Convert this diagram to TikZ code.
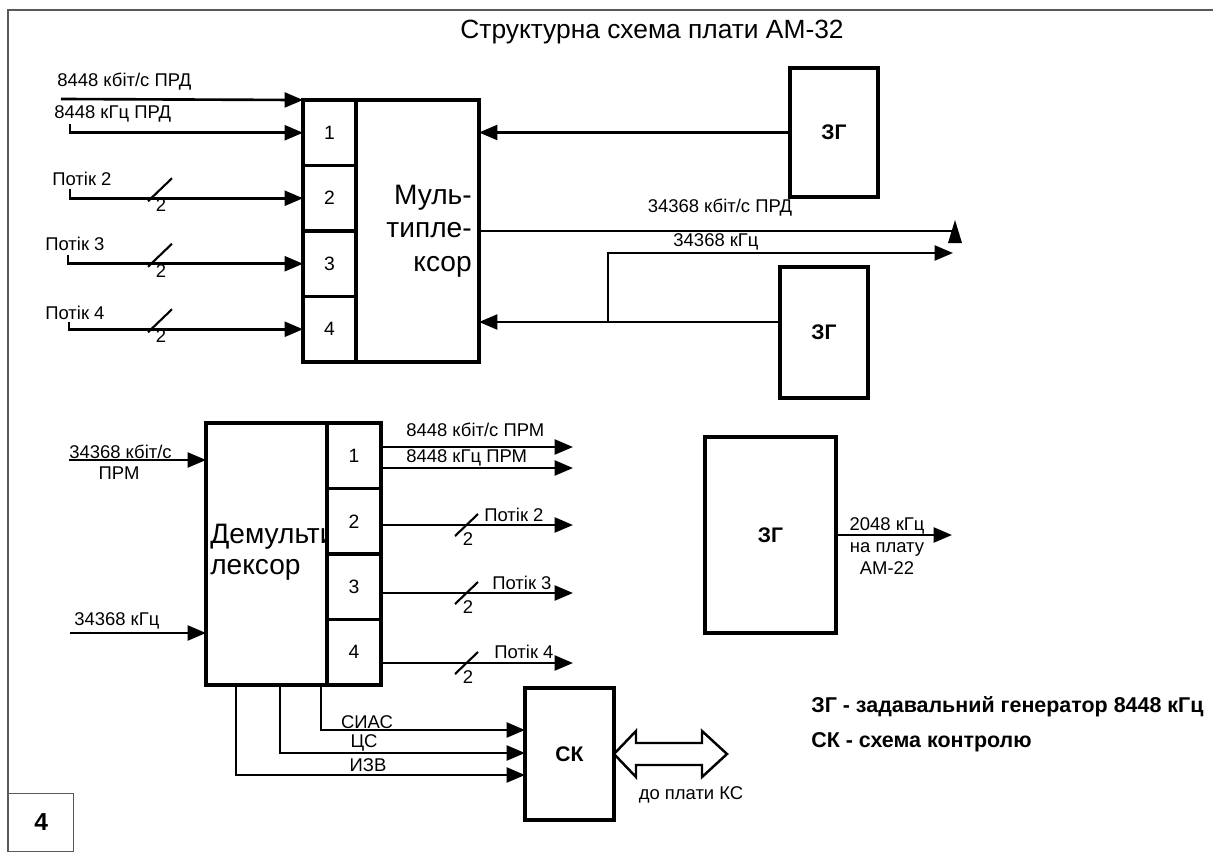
\documentclass[tikz,border=0pt]{standalone}
\usepackage{fontspec}
\setmainfont{Liberation Sans}
\usetikzlibrary{arrows.meta}

\begin{document}
\begin{tikzpicture}[x=0.02cm, y=-0.02cm,
    box/.style={draw, line width=2.2pt, fill=white, inner sep=0pt, outer sep=0pt},
    cell/.style={box, minimum width=1.06cm, minimum height=1.31cm, font=\fontsize{11}{13}\selectfont},
    gen/.style={box, font=\bfseries\fontsize{12}{14}\selectfont},
    lbl/.style={inner sep=0pt, font=\fontsize{10.5}{12.6}\selectfont},
    arr/.style={line width=1.5pt, -{Triangle[length=10.5pt, width=8.5pt]}},
    wire/.style={line width=1.5pt},
    tick/.style={line width=1.2pt}]
    \useasboundingbox (0,0) rectangle (1213,852);

    % Frame
    \draw[gray!70!black, line width=0.8pt] (1213,10) -- (8,10) -- (8,852);
    \node[draw=gray!70!black, line width=0.8pt, minimum width=1.3cm, minimum height=1.16cm,
          anchor=south west, font=\bfseries\fontsize{14}{16}\selectfont] (sheet) at (8,852) {4};
    \node[font=\fontsize{15}{18}\selectfont] (title) at (652,32) {Структурна схема плати АМ-32};

    % Multiplexer
    \node[box, minimum width=3.52cm, minimum height=5.24cm] (mux) at (391,231) {};
    \node[anchor=east, align=right, inner sep=0pt, font=\fontsize{16}{19}\selectfont] (muxtxt) at (472,231) {Муль-\\типле-\\ксор};
    \foreach \i in {1,...,4}
        \node[cell] (m\i) at (329.5, {100+65.5*(\i-0.5)}) {\i};

    % Inputs of the multiplexer
    \coordinate (a0) at (61,99);
    \draw[arr] (a0) -- (mux.north west);
    \node[lbl, anchor=west] (l0) at (57,82) {8448 кбіт/с ПРД};
    \coordinate (a1) at (70,124);
    \draw[arr] (a1) |- (m1.west);
    \node[lbl, anchor=west] (l1) at (54,114) {8448 кГц ПРД};
    \foreach \i/\x/\y/\lx/\ly in {2/70/189/52/179, 3/68/255/45/244, 4/69/322/45/313} {
        \node[lbl, anchor=west] (lp\i) at (\lx,\ly) {Потік \i};
        \coordinate (a\i) at (\x,\y);
        \draw[arr] (a\i) |- (m\i.west);
        \draw[tick] (m\i.west -| 148,0) ++(0,3) -- ++(24,-23);
        \path (m\i.west -| 161,0) ++(0,7) node[lbl] (np\i) {2};
    }

    % Generators and outputs
    \node[gen, minimum width=1.76cm, minimum height=2.58cm] (zg1) at (834,132.5) {ЗГ};
    \draw[arr] (zg1.west) -- (zg1.west -| mux.east);

    \node[gen, minimum width=1.76cm, minimum height=2.62cm] (zg2) at (824,332.5) {ЗГ};
    \coordinate (j2) at (608,322);
    \draw[wire] (zg2.west |- j2) -- (j2);
    \draw[arr] (j2) -- (j2 -| mux.east);
    \coordinate (o2) at (953,253);
    \draw[arr] (j2) |- (o2);
    \node[lbl] (l34b) at (716,242) {34368 кГц};

    \coordinate (o1) at (955,231);
    \draw[wire] (mux.east) -- (o1);
    \fill (o1) ++(-7,12) -- ++(7,-23) -- ++(7,23) -- cycle;
    \node[lbl] (l34a) at (720,208) {34368 кбіт/с ПРД};

    % Demultiplexer
    \node[box, minimum width=3.5cm, minimum height=5.24cm] (dm) at (293.5,554) {};
    \node[anchor=west, align=left, inner sep=0pt, font=\fontsize{16}{17.6}\selectfont] (dmtxt) at (210,552.5) {Демульти-\\лексор};
    \foreach \i in {1,...,4}
        \node[cell, minimum width=1.08cm] (d\i) at (354, {423+65.5*(\i-0.5)}) {\i};

    \coordinate (b1) at (69,460);
    \draw[arr] (b1) -- (b1 -| dm.west);
    \node[lbl, anchor=west] (lb1) at (69,452) {34368 кбіт/с};
    \node[lbl] (lb1b) at (119,473) {ПРМ};
    \coordinate (b2) at (70,633);
    \draw[arr] (b2) -- (b2 -| dm.west);
    \node[lbl, anchor=west] (lb2) at (74,621) {34368 кГц};

    % Outputs of the demultiplexer
    \coordinate (c1) at (573,447);
    \coordinate (c1b) at (573,468);
    \draw[arr] (c1 -| dm.east) -- (c1);
    \draw[arr] (c1b -| dm.east) -- (c1b);
    \node[lbl, anchor=west] (dl1) at (406,430) {8448 кбіт/с ПРМ};
    \node[lbl, anchor=west] (dl1b) at (406,458) {8448 кГц ПРМ};
    \foreach \i/\y/\lx/\ly in {2/525/484/515, 3/593/492/583, 4/663/494/652} {
        \coordinate (c\i) at (573,\y);
        \draw[arr] (c\i -| dm.east) -- (c\i);
        \draw[tick] (c\i -| 455,0) ++(0,11) -- ++(23,-22);
        \node[lbl] (dn\i) at (468, {\y+14}) {2};
        \node[lbl, anchor=west] (dl\i) at (\lx,\ly) {Потік \i};
    }

    % Control block
    \node[gen, minimum width=1.78cm, minimum height=2.64cm] (sk) at (569.5,754) {СК};
    \coordinate (s1) at (321,730);
    \coordinate (s2) at (280,753);
    \coordinate (s3) at (236,775);
    \draw[arr] (s1 |- dm.south) -- (s1) -- (s1 -| sk.west);
    \draw[arr] (s2 |- dm.south) -- (s2) -- (s2 -| sk.west);
    \draw[arr] (s3 |- dm.south) -- (s3) -- (s3 -| sk.west);
    \node[lbl] (ls1) at (367,722) {СИАС};
    \node[lbl] (ls2) at (364,743) {ЦС};
    \node[lbl] (ls3) at (368,765) {ИЗВ};
    \draw[line width=1.4pt, fill=white] (sk.east) -- ++(22,-23) -- ++(0,12) -- ++(66,0) -- ++(0,-12)
        -- ++(25,23) -- ++(-25,23) -- ++(0,-12) -- ++(-66,0) -- ++(0,12) -- cycle;
    \node[lbl] (lks) at (691,795) {до плати КС};

    % Generator for AM-22
    \node[gen, minimum width=2.62cm, minimum height=3.92cm] (zg3) at (770.5,535) {ЗГ};
    \coordinate (g3) at (952,535);
    \draw[arr] (zg3.east) -- (g3);
    \node[lbl, align=center] (lg3) at (887,546) {2048 кГц\\на плату\\АМ-22};

    % Legend
    \node[anchor=west, inner sep=0pt, font=\bfseries\fontsize{12.2}{15}\selectfont] (leg1) at (811,707) {ЗГ - задавальний генератор 8448 кГц};
    \node[anchor=west, inner sep=0pt, font=\bfseries\fontsize{12.2}{15}\selectfont] (leg2) at (811,742) {СК - схема контролю};
\end{tikzpicture}
\end{document}
